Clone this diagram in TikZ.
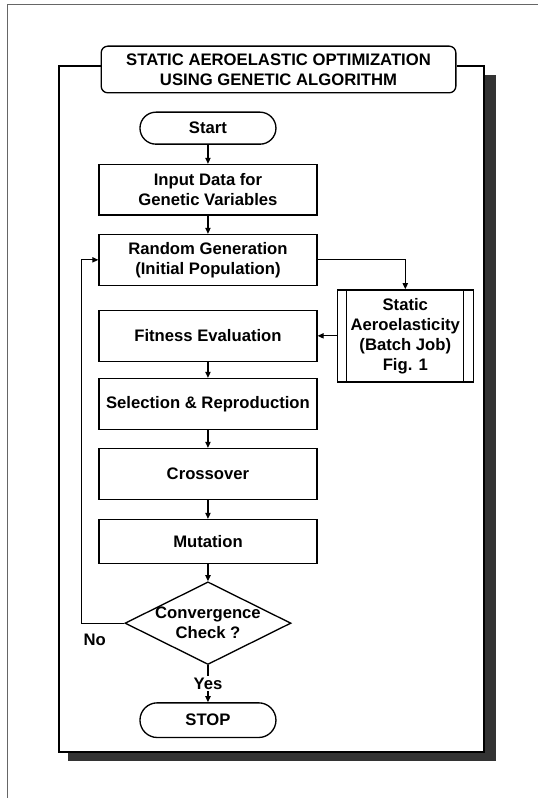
\documentclass[tikz,border=0pt]{standalone}
\usepackage{fontspec}
\setmainfont{Liberation Sans}
\usetikzlibrary{arrows.meta,positioning,shapes.geometric}

\begin{document}
\begin{tikzpicture}[
  x=0.75pt,y=-0.75pt,
  font=\fontsize{12.5}{15}\selectfont\bfseries,
  cell/.style={draw,line width=1pt,align=center,minimum width=163.5pt,minimum height=38pt,inner sep=2pt},
  term/.style={cell,rounded corners=12pt,minimum width=102pt,minimum height=24pt},
  batch/.style={cell,minimum width=102pt,minimum height=69pt,inner sep=1pt},
  check/.style={draw,line width=1pt,diamond,aspect=2,align=center,inner sep=-4pt,minimum width=124.5pt,minimum height=62pt},
  arrow/.style={-{Triangle[length=4.5pt,width=4pt]},line width=0.8pt},
  frame/.style={line width=1.1pt},
  shadow/.style={fill=black!80}
]
\useasboundingbox (0,0) rectangle (538,798);
\draw[line width=0.5pt,black!60] (7,798) -- (7,4) -- (538,4);

\node[cell,rounded corners=5pt,minimum width=266pt,minimum height=35pt] (title) at (278.5,69.5)
  {STATIC AEROELASTIC OPTIMIZATION\\USING GENETIC ALGORITHM};
\node[term,below=13.5pt of title,xshift=-52.9pt] (start) {Start};
\node[cell,below=14.25pt of start] (input) {Input Data for\\Genetic Variables};
\node[cell,below=13.5pt of input] (rand) {Random Generation\\(Initial Population)};
\node[cell,below=18pt of rand] (fit) {Fitness Evaluation};
\node[cell,below=12pt of fit] (sel) {Selection \& Reproduction};
\node[cell,below=13.5pt of sel] (cross) {Crossover};
\node[cell,minimum height=33pt,below=14.25pt of cross] (mut) {Mutation};
\node[check,below=12.75pt of mut] (conv) {Convergence\\Check ?};
\node[term,minimum height=26pt,rounded corners=13pt,below=27.75pt of conv] (stop) {STOP};
\node[batch,right=14.25pt of fit] (aero) {Static\\Aeroelasticity\\(Batch Job)\\Fig. 1};
\draw[line width=1pt] ([xshift=7.5pt]aero.north west) -- ([xshift=7.5pt]aero.south west);
\draw[line width=1pt] ([xshift=-8pt]aero.north east) -- ([xshift=-8pt]aero.south east);

% frame with shadow
\fill[shadow] (484,75) rectangle (496,761);
\fill[shadow] (68,752) rectangle (496,761);
\draw[frame] (title.west |- 0,66) -| (59,752) -- (484,752) |- (title.east |- 0,66);

\draw[arrow] (start) -- (input);
\draw[arrow] (input) -- (rand);
\draw[arrow] (rand.east) -| (aero.north);
\draw[arrow] (aero) -- (fit);
\draw[arrow] (fit) -- (sel);
\draw[arrow] (sel) -- (cross);
\draw[arrow] (cross) -- (mut);
\draw[arrow] (mut) -- (conv);
\draw[arrow] (conv) -- node[fill=white,inner sep=1.5pt] (yes) {Yes} (stop);
\draw[arrow] (conv.west) -- ++(-43,0) coordinate (back) |- (rand.west);
\node[inner sep=0,below right=8pt and 1.5pt of back] (no) {No};
\end{tikzpicture}
\end{document}
